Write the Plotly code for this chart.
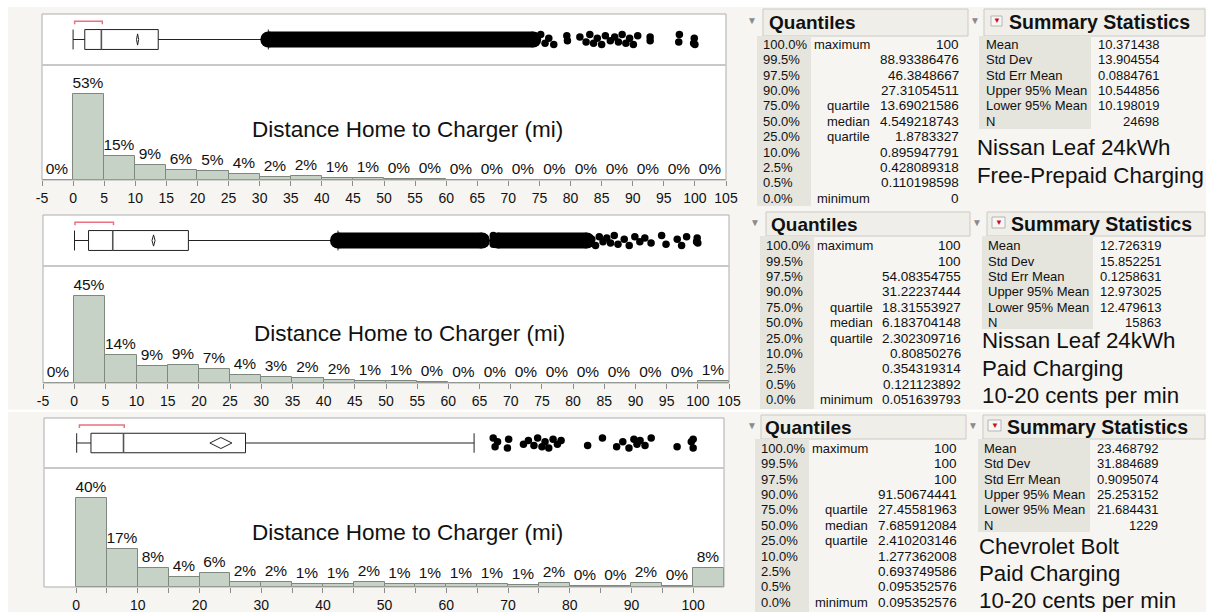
import plotly.graph_objects as go

W, H = 1206, 612
FONT = "Liberation Sans, Arial, Helvetica, sans-serif"

# ---------------- data ----------------
bin_width = 5
leaf_free_bin_start = -5
leaf_free_pct = [0.0, 53.2, 14.8, 9.4, 6.3, 5.4, 3.8, 2.1, 2.4, 1.2, 1.1, 0.4,
                 0.4, 0.2, 0.1, 0.1, 0.1, 0.1, 0.1, 0.1, 0.1, 0.3]
leaf_paid_bin_start = -5
leaf_paid_pct = [0.0, 45.0, 14.4, 8.8, 9.3, 7.4, 4.3, 3.1, 2.4, 1.7, 1.2, 1.0,
                 0.4, 0.2, 0.2, 0.1, 0.1, 0.1, 0.1, 0.1, 0.1, 1.2]
bolt_bin_start = 0
bolt_pct = [40.0, 17.0, 8.4, 4.4, 6.4, 2.4, 2.1, 1.4, 1.3, 2.2, 1.4, 1.3, 1.2,
            1.2, 1.1, 2.0, 0.4, 0.4, 2.0, 0.4, 8.4]

# box plot: [lower whisker, q1, median, q3, upper whisker]
leaf_free_box = [0.0, 1.8783327, 4.549218743, 13.69021586, 31.4]
leaf_paid_box = [0.051639793, 2.302309716, 6.183704148, 18.31553927, 42.3]
bolt_box = [0.095352576, 2.410203146, 7.685912084, 27.45581963, 64.5]
# mean diamond: [lower 95%, mean, upper 95%]
leaf_free_mean = [10.198019, 10.371438, 10.544856]
leaf_paid_mean = [12.479613, 12.726319, 12.973025]
bolt_mean = [21.684431, 23.468792, 25.253152]
# shortest half bracket
leaf_free_short = [0.25, 4.7]
leaf_paid_short = [0.13, 6.3]
bolt_short = [0.54, 7.8]
# outliers: dense runs and individual points
leaf_free_dense = [[31.4, 74.0]]
leaf_free_out = [75.2, 75.9, 76.5, 77.3, 79.4, 79.5, 81.5, 82.5, 83.1, 83.7, 84.3,
                 85.0, 85.6, 86.4, 87.1, 87.7, 88.3, 88.9, 89.5, 90.1, 90.8, 92.8,
                 92.8, 97.4, 97.5, 99.8, 99.9, 100.0]
leaf_paid_dense = [[42.3, 65.4], [67.9, 82.2]]
leaf_paid_out = [67.2, 67.2, 83.0, 83.6, 84.2, 84.8, 85.4, 86.0, 86.6, 87.2, 88.2,
                 89.0, 89.9, 90.7, 91.5, 92.5, 94.2, 94.9, 96.7, 97.4, 98.2, 99.8,
                 99.9, 100.0]
bolt_dense = []
bolt_out = [67.6, 67.9, 68.3, 69.9, 70.1, 72.5, 73.3, 74.2, 74.8, 75.5, 76.0, 76.6,
            77.3, 78.0, 78.6, 82.9, 85.3, 87.6, 88.6, 89.6, 90.4, 90.9, 91.4, 92.2,
            93.2, 97.4, 99.7, 100.0, 100.0]

ticks_five = [-5, 0, 5, 10, 15, 20, 25, 30, 35, 40, 45, 50, 55, 60, 65, 70, 75,
              80, 85, 90, 95, 100, 105]
ticks_five_text = ["-5", "0", "5", "10", "15", "20", "25", "30", "35", "40", "45",
                   "50", "55", "60", "65", "70", "75", "80", "85", "90", "95",
                   "100", "105"]
ticks_ten = [0, 5, 10, 15, 20, 25, 30, 35, 40, 45, 50, 55, 60, 65, 70, 75, 80,
             85, 90, 95, 100]
ticks_ten_text = ["0", "", "10", "", "20", "", "30", "", "40", "", "50", "", "60",
                  "", "70", "", "80", "", "90", "", "100"]

hist_title = "Distance Home to Charger (mi)"

quantile_levels = ["100.0%", "99.5%", "97.5%", "90.0%", "75.0%", "50.0%", "25.0%",
                   "10.0%", "2.5%", "0.5%", "0.0%"]
quantile_names = ["maximum", "", "", "", "quartile", "median", "quartile", "", "",
                  "", "minimum"]
leaf_free_q = ["100", "88.93386476", "46.3848667", "27.31054511", "13.69021586",
               "4.549218743", "1.8783327", "0.895947791", "0.428089318",
               "0.110198598", "0"]
leaf_paid_q = ["100", "100", "54.08354755", "31.22237444", "18.31553927",
               "6.183704148", "2.302309716", "0.80850276", "0.354319314",
               "0.121123892", "0.051639793"]
bolt_q = ["100", "100", "100", "91.50674441", "27.45581963", "7.685912084",
          "2.410203146", "1.277362008", "0.693749586", "0.095352576", "0.095352576"]

summary_names = ["Mean", "Std Dev", "Std Err Mean", "Upper 95% Mean",
                 "Lower 95% Mean", "N"]
leaf_free_s = ["10.371438", "13.904554", "0.0884761", "10.544856", "10.198019", "24698"]
leaf_paid_s = ["12.726319", "15.852251", "0.1258631", "12.973025", "12.479613", "15863"]
bolt_s = ["23.468792", "31.884689", "0.9095074", "25.253152", "21.684431", "1229"]

leaf_free_caption = ["Nissan Leaf 24kWh", "Free-Prepaid Charging"]
leaf_paid_caption = ["Nissan Leaf 24kWh", "Paid Charging", "10-20 cents per min"]
bolt_caption = ["Chevrolet Bolt", "Paid Charging", "10-20 cents per min"]

datasets = [
    dict(start=leaf_free_bin_start, pct=leaf_free_pct, box=leaf_free_box,
         mean=leaf_free_mean, short=leaf_free_short, dense=leaf_free_dense,
         out=leaf_free_out, q=leaf_free_q, s=leaf_free_s, cap=leaf_free_caption,
         ticks=ticks_five, ticktext=ticks_five_text),
    dict(start=leaf_paid_bin_start, pct=leaf_paid_pct, box=leaf_paid_box,
         mean=leaf_paid_mean, short=leaf_paid_short, dense=leaf_paid_dense,
         out=leaf_paid_out, q=leaf_paid_q, s=leaf_paid_s, cap=leaf_paid_caption,
         ticks=ticks_five, ticktext=ticks_five_text),
    dict(start=bolt_bin_start, pct=bolt_pct, box=bolt_box, mean=bolt_mean,
         short=bolt_short, dense=bolt_dense, out=bolt_out, q=bolt_q, s=bolt_s,
         cap=bolt_caption, ticks=ticks_ten, ticktext=ticks_ten_text),
]

# ---------------- layout geometry (pixels) ----------------
geom = [
    dict(top=14, sep=65, bot=180, x0=42, x1=726, xr=[-5, 105], ymax=71, title=(407, 129)),
    dict(top=215, sep=266, bot=383, x0=43, x1=729, xr=[-5, 105], ymax=60.5, title=(409, 333)),
    dict(top=418, sep=468, bot=587, x0=44, x1=724, xr=[-5.2, 105], ymax=53.5, title=(407, 532)),
]
tgeom = [
    dict(tq=752, qh=(763, 968), hy=(9, 36), qtx=767, pbg=(757, 811), pct_x=761,
         c2r=872, vr=961, ts=975, sh=(984, 1205), stx=1007, icon=(991, 1002, 16, 26),
         sbg=(979, 1091), sl=984, sr=1161, row0=44.3, cap_x=975, cap_y=[147, 175],
         qbg_bot=206, sbg_bot=129, tri_y=21),
    dict(tq=755, qh=(766, 970), hy=(212, 236), qtx=769, pbg=(760, 814), pct_x=764,
         c2r=875, vr=962.5, ts=977, sh=(987, 1205), stx=1009,
         icon=(992, 1005, 217, 228), sbg=(982, 1093), sl=986, sr=1163, row0=245.7,
         cap_x=980, cap_y=[340.7, 368, 395], qbg_bot=409, sbg_bot=329, tri_y=222),
    dict(tq=752, qh=(761, 966), hy=(415, 439), qtx=763, pbg=(755, 809), pct_x=759,
         c2r=870, vr=958.7, ts=973, sh=(983, 1205), stx=1005,
         icon=(988, 1001, 420, 431), sbg=(978, 1090), sl=982, sr=1160, row0=448.3,
         cap_x=977, cap_y=[546.7, 573.3, 600], qbg_bot=612, sbg_bot=532, tri_y=425),
]
ROW = 15.4
jitter = [0.2, -0.15, 0.05, -0.2, 0.15, -0.05, 0.1, -0.1]
BOX_H = 0.39


def X(px):
    return px / W


def Y(py):
    return 1 - py / H


fig = go.Figure()
shapes = []
ann = []
layout_axes = {}

BG = "#f6f5f1"
shapes.append(dict(type="rect", xref="paper", yref="paper", x0=0, x1=X(8), y0=0, y1=1,
                   fillcolor="white", line=dict(width=0), layer="below"))
shapes.append(dict(type="rect", xref="paper", yref="paper", x0=0, x1=1, y0=Y(7), y1=1,
                   fillcolor="white", line=dict(width=0), layer="below"))
shapes.append(dict(type="rect", xref="paper", yref="paper", x0=0, x1=1, y0=Y(412), y1=Y(409.5),
                   fillcolor="white", line=dict(width=0), layer="below"))


def text(px, py, s, size=13, anchor="left", bold=False, color="#111"):
    ann.append(dict(xref="paper", yref="paper", x=X(px), y=Y(py), text=("<b>%s</b>" % s) if bold else s,
                    showarrow=False, xanchor=anchor, yanchor="middle",
                    font=dict(family=FONT, size=size, color=color)))


for i, (d, g, t) in enumerate(zip(datasets, geom, tgeom)):
    xn = "x" if i == 0 else "x%d" % (i + 1)
    ybn = "y%d" % (2 * i + 1) if i else "y"
    yhn = "y%d" % (2 * i + 2)
    xkey = "xaxis" if i == 0 else "xaxis%d" % (i + 1)
    ybkey = "yaxis" if i == 0 else "yaxis%d" % (2 * i + 1)
    yhkey = "yaxis%d" % (2 * i + 2)

    layout_axes[xkey] = dict(domain=[X(g["x0"]), X(g["x1"])], range=g["xr"], anchor=yhn,
                             tickmode="array", tickvals=d["ticks"], ticktext=d["ticktext"],
                             ticks="outside", ticklen=5, tickcolor="#8c8c8c",
                             tickfont=dict(family=FONT, size=14, color="#111"),
                             showgrid=False, zeroline=False, showline=False,
                             fixedrange=True, automargin=False)
    layout_axes[ybkey] = dict(domain=[Y(g["sep"]), Y(g["top"])], range=[-1, 1], anchor=xn,
                              visible=False, fixedrange=True, automargin=False)
    layout_axes[yhkey] = dict(domain=[Y(g["bot"]), Y(g["sep"])], range=[0, g["ymax"]],
                              anchor=xn, visible=False, fixedrange=True, automargin=False)

    # histogram
    centers = [d["start"] + bin_width * (k + 0.5) for k in range(len(d["pct"]))]
    labels = ["%d%%" % round(v) for v in d["pct"]]
    fig.add_trace(go.Bar(x=centers, y=d["pct"], width=bin_width, xaxis=xn, yaxis=yhn,
                         marker=dict(color="#c6d2c6", line=dict(color="#7f887f", width=1)),
                         text=labels, textposition="outside", cliponaxis=False,
                         constraintext="none",
                         textfont=dict(family=FONT, size=15.5, color="#111"),
                         hoverinfo="skip"))

    lo, q1, med, q3, hi = d["box"]
    h = BOX_H
    fig.add_trace(go.Scatter(
        x=[q1, q3, q3, q1, q1, None, lo, q1, None, q3, hi, None, lo, lo, None, hi, hi],
        y=[-h, -h, h, h, -h, None, 0, 0, None, 0, 0, None, -h, h, None, -h, h],
        mode="lines", line=dict(color="#222", width=1), xaxis=xn, yaxis=ybn,
        hoverinfo="skip"))
    fig.add_trace(go.Scatter(x=[med, med], y=[-h, h], mode="lines",
                             line=dict(color="#555", width=1.6), xaxis=xn, yaxis=ybn,
                             hoverinfo="skip"))
    lcl, mn, ucl = d["mean"]
    dh = 0.22
    fig.add_trace(go.Scatter(x=[lcl, mn, ucl, mn, lcl], y=[0, dh, 0, -dh, 0], mode="lines",
                             line=dict(color="#222", width=1), xaxis=xn, yaxis=ybn,
                             hoverinfo="skip"))
    a, b = d["short"]
    fig.add_trace(go.Scatter(x=[a, a, b, b], y=[0.6, 0.72, 0.72, 0.6], mode="lines",
                             line=dict(color="#e8727e", width=1.5), xaxis=xn, yaxis=ybn,
                             hoverinfo="skip"))
    for seg in d["dense"]:
        fig.add_trace(go.Scatter(x=seg, y=[0, 0], mode="lines+markers",
                                 line=dict(color="black", width=16),
                                 marker=dict(color="black", size=16),
                                 xaxis=xn, yaxis=ybn, hoverinfo="skip"))
    fig.add_trace(go.Scatter(x=d["out"], y=[jitter[k % len(jitter)] for k in range(len(d["out"]))],
                             mode="markers", marker=dict(color="black", size=7.5),
                             xaxis=xn, yaxis=ybn, hoverinfo="skip"))

    shapes.append(dict(type="rect", xref="paper", yref="paper", x0=X(g["x0"]), x1=X(g["x1"]),
                       y0=Y(g["bot"]), y1=Y(g["top"]), line=dict(color="#adadad", width=1)))
    shapes.append(dict(type="line", xref="paper", yref="paper", x0=X(g["x0"]), x1=X(g["x1"]),
                       y0=Y(g["sep"]), y1=Y(g["sep"]), line=dict(color="#c8c8c8", width=2)))
    text(g["title"][0], g["title"][1], hist_title, size=22.5, anchor="center")

    # ----- Quantiles table -----
    shapes.append(dict(type="rect", xref="paper", yref="paper", x0=X(t["qh"][0]), x1=X(t["qh"][1]),
                       y0=Y(t["hy"][1]), y1=Y(t["hy"][0]), fillcolor="#efeee9",
                       line=dict(color="#cbcac5", width=1), layer="below"))
    shapes.append(dict(type="rect", xref="paper", yref="paper", x0=X(t["pbg"][0]), x1=X(t["pbg"][1]),
                       y0=Y(t["qbg_bot"]), y1=Y(t["hy"][1]), fillcolor="#e5e4dd",
                       line=dict(width=0), layer="below"))
    text(t["tq"], t["tri_y"], "▼", size=10, anchor="center", color="#8a8a8a")
    text(t["qtx"], (t["hy"][0] + t["hy"][1]) / 2, "Quantiles", size=19, bold=True)
    for r in range(len(quantile_levels)):
        yy = t["row0"] + ROW * r
        text(t["pct_x"], yy, quantile_levels[r])
        if quantile_names[r]:
            text(t["c2r"], yy, quantile_names[r], anchor="right")
        text(t["vr"], yy, d["q"][r], anchor="right", size=13.5)

    # ----- Summary Statistics table -----
    shapes.append(dict(type="rect", xref="paper", yref="paper", x0=X(t["sh"][0]), x1=X(t["sh"][1]),
                       y0=Y(t["hy"][1]), y1=Y(t["hy"][0]), fillcolor="#efeee9",
                       line=dict(color="#cbcac5", width=1), layer="below"))
    shapes.append(dict(type="rect", xref="paper", yref="paper", x0=X(t["sbg"][0]), x1=X(t["sbg"][1]),
                       y0=Y(t["sbg_bot"]), y1=Y(t["hy"][1]), fillcolor="#e5e4dd",
                       line=dict(width=0), layer="below"))
    ix0, ix1, iy0, iy1 = t["icon"]
    shapes.append(dict(type="rect", xref="paper", yref="paper", x0=X(ix0), x1=X(ix1),
                       y0=Y(iy1), y1=Y(iy0), fillcolor="#f7f7f7",
                       line=dict(color="#b5b5b5", width=1)))
    text((ix0 + ix1) / 2, (iy0 + iy1) / 2, "▼", size=8, anchor="center", color="#d0101a")
    text(t["ts"], t["tri_y"], "▼", size=10, anchor="center", color="#8a8a8a")
    text(t["stx"], (t["hy"][0] + t["hy"][1]) / 2, "Summary Statistics", size=19.5, bold=True)
    for r in range(len(summary_names)):
        yy = t["row0"] + ROW * r
        text(t["sl"], yy, summary_names[r])
        text(t["sr"], yy, d["s"][r], anchor="right")
    for k, line in enumerate(d["cap"]):
        text(t["cap_x"], t["cap_y"][k], line, size=22.3)

fig.update_layout(width=W, height=H, margin=dict(l=0, r=0, t=0, b=0, pad=0),
                  autosize=False, showlegend=False, template="none",
                  paper_bgcolor=BG, plot_bgcolor="white", shapes=shapes, annotations=ann,
                  font=dict(family=FONT), bargap=0, **layout_axes)
fig.write_html("out.html", config={"displayModeBar": False},
               post_script="document.body.style.margin='0px';document.body.style.padding='0px';"
                           "document.body.style.overflow='hidden';")
